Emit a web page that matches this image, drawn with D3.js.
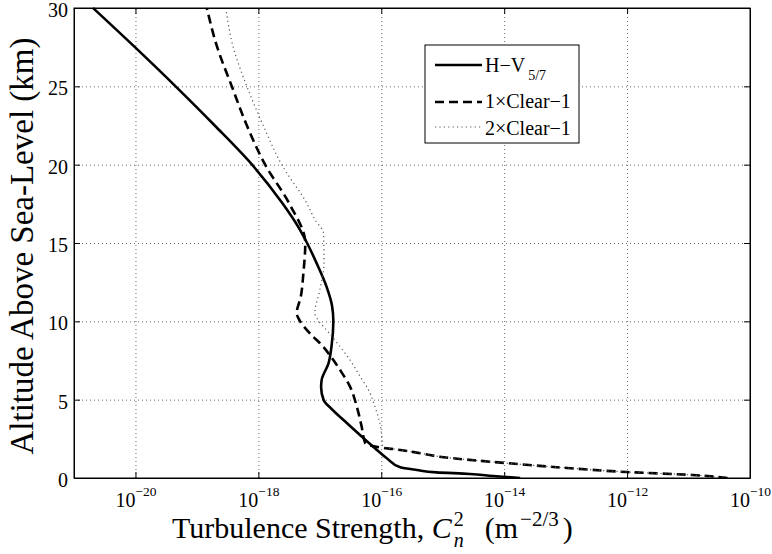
<!DOCTYPE html>
<html>
<head>
<meta charset="utf-8">
<script src="https://cdn.jsdelivr.net/npm/d3@7"></script>
<style>
  body { margin: 0; background: #fff; }
  svg text { font-family: "Liberation Serif", "DejaVu Serif", serif; fill: #000; }
</style>
</head>
<body>
<script>
// altitude (km) and Cn^2 values
const hvHeights = [0, 0.13, 0.26, 0.36, 0.51, 0.68, 1.26, 1.9, 2.5, 3.5, 4.3, 5.0, 5.8, 6.25, 7.3, 8.4, 10.0, 11.0, 12.2, 13.7, 15.0, 16.0, 17.5, 20, 22.5, 25, 27.5, 30];
const hvValues  = [1.82e-14, 6.6e-15, 2.75e-15, 7.9e-16, 3.8e-16, 2.04e-16, 1.23e-16, 7.9e-17, 5.3e-17, 2.77e-17, 1.66e-17, 1.15e-17, 1.05e-17, 1.07e-17, 1.38e-17, 1.55e-17, 1.66e-17, 1.58e-17, 1.29e-17, 8.9e-18, 6.2e-18, 4.5e-18, 2.5e-18, 7.9e-19, 1.95e-19, 4.5e-20, 9.8e-21, 2.04e-21];

const clear1Heights = [0, 0.19, 0.38, 0.64, 0.96, 1.36, 1.58, 1.79, 1.95, 2.21, 3.27, 4.55, 5.83, 6.89, 7.53, 8.49, 9.23, 10.19, 10.51, 11.57, 13.06, 15, 17.5, 20, 22.5, 25, 27.5, 30];
const clear1Values  = [4.3e-11, 1.17e-11, 1.0e-12, 1.05e-13, 1.02e-14, 8.9e-16, 4.3e-16, 2.04e-16, 9.5e-17, 5.5e-17, 4.8e-17, 4.0e-17, 3.1e-17, 2.14e-17, 1.66e-17, 1.07e-17, 6.9e-18, 4.5e-18, 4.2e-18, 4.9e-18, 5.4e-18, 5.8e-18, 3.2e-18, 1.29e-18, 6.5e-19, 3.7e-19, 2.14e-19, 1.45e-19];

const clear2Heights = [0, 0.19, 0.38, 0.64, 0.96, 1.36, 1.58, 1.79, 2.0, 2.64, 3.49, 4.55, 5.62, 6.5, 7.53, 8.38, 9.44, 10.1, 10.5, 12.0, 13.7, 15.6, 16.5, 17.5, 20, 22.5, 25, 27.5, 30];
const clear2Values  = [4.3e-11, 1.17e-11, 1.0e-12, 1.05e-13, 1.02e-14, 8.9e-16, 4.3e-16, 2.04e-16, 1.05e-16, 1.02e-16, 9.5e-17, 7.9e-17, 6.2e-17, 4.5e-17, 3.1e-17, 2.14e-17, 1.29e-17, 9.3e-18, 8.3e-18, 1.0e-17, 1.17e-17, 1.15e-17, 8.3e-18, 6.2e-18, 2.4e-18, 1.2e-18, 6.5e-19, 3.9e-19, 2.95e-19];

const xTickValues = [1e-20, 1e-18, 1e-16, 1e-14, 1e-12, 1e-10];
const xTickExps = ["\u221220", "\u221218", "\u221216", "\u221214", "\u221212", "\u221210"];
const yTickValues = [0, 5, 10, 15, 20, 25, 30];

const W = 772, H = 554;
const margin = {top: 8, right: 22, bottom: 76, left: 74};
const width = W - margin.left - margin.right,
    height = H - margin.top - margin.bottom;

const svg = d3.select("body").append("svg")
  .attr("width", W)
  .attr("height", H)
  .attr("font-family", "Liberation Serif, DejaVu Serif, serif");

const g = svg.append("g")
  .attr("transform", "translate(" + margin.left + "," + margin.top + ")");

const x = d3.scaleLog().domain([1e-21, 1e-10]).range([0, width]);
const y = d3.scaleLinear().domain([0, 30]).range([height, 0]);

//Grid lines
g.append("g")
  .attr("transform", "translate(0," + height + ")")
  .call(d3.axisBottom(x).tickValues(xTickValues.slice(0, -1)).tickSize(-height).tickFormat(""))
  .call(s => s.select(".domain").remove())
  .selectAll("line")
    .attr("stroke", "#000").attr("stroke-opacity", 0.6)
    .attr("stroke-dasharray", "1,3");

g.append("g")
  .call(d3.axisLeft(y).tickValues(yTickValues.slice(1, -1)).tickSize(-width).tickFormat(""))
  .call(s => s.select(".domain").remove())
  .selectAll("line")
    .attr("stroke", "#000").attr("stroke-opacity", 0.6)
    .attr("stroke-dasharray", "1,3");

//Clip for curves
g.append("clipPath").attr("id", "plotclip")
  .append("rect").attr("y", -2).attr("width", width).attr("height", height + 2);

const line = d3.line()
  .x(d => x(d[1]))
  .y(d => y(d[0]))
  .curve(d3.curveMonotoneY);

const series = [
  {name: "hv", data: d3.zip(hvHeights, hvValues), stroke: "#000", w: 2.6, dash: null},
  {name: "c1", data: d3.zip(clear1Heights, clear1Values), stroke: "#000", w: 2.6, dash: "9,5"},
  {name: "c2", data: d3.zip(clear2Heights, clear2Values), stroke: "#555", w: 1.2, dash: "1.2,3.2"}
];

const curves = g.append("g").attr("clip-path", "url(#plotclip)");
series.forEach(s => {
  curves.append("path")
    .datum(s.data)
    .attr("fill", "none")
    .attr("stroke", s.stroke)
    .attr("stroke-width", s.w)
    .attr("stroke-dasharray", s.dash)
    .attr("stroke-linejoin", "round")
    .attr("d", line);
});

//Axes with inward ticks on all four sides
const tickLen = 6;
const xb = g.append("g")
  .attr("transform", "translate(0," + height + ")")
  .call(d3.axisBottom(x).tickValues(xTickValues).tickSizeInner(-tickLen).tickSizeOuter(0).tickFormat(""));
g.append("g")
  .call(d3.axisTop(x).tickValues(xTickValues).tickSizeInner(-tickLen).tickSizeOuter(0).tickFormat(""));
const yl = g.append("g")
  .call(d3.axisLeft(y).tickValues(yTickValues).tickSizeInner(-tickLen).tickSizeOuter(0).tickFormat(""));
g.append("g")
  .attr("transform", "translate(" + width + ",0)")
  .call(d3.axisRight(y).tickValues(yTickValues).tickSizeInner(-tickLen).tickSizeOuter(0).tickFormat(""));
g.selectAll(".domain").attr("stroke", "#000");
g.selectAll("g").attr("font-family", null);

//x tick labels 10^n
xb.selectAll(".tick").each(function(d, i) {
  const t = d3.select(this).append("text")
    .attr("y", 29)
    .attr("text-anchor", "middle")
    .attr("font-size", "20px");
  t.append("tspan").text("10");
  t.append("tspan").attr("dy", -11).attr("font-size", "13.5px").text(xTickExps[i]);
});

//y tick labels
yl.selectAll(".tick").append("text")
  .attr("x", -6)
  .attr("y", 8.5)
  .attr("text-anchor", "end")
  .attr("font-size", "20px")
  .text(d => d);

//Box
g.append("rect")
  .attr("width", width).attr("height", height)
  .attr("fill", "none").attr("stroke", "#000").attr("stroke-width", 1);

//x axis label
const xl = svg.append("text")
  .attr("x", 172).attr("y", 538)
  .attr("font-size", "30px");
xl.append("tspan").text("Turbulence Strength, ");
xl.append("tspan").attr("font-style", "italic").text("C");
xl.append("tspan").attr("dy", -12).attr("dx", 2).attr("font-size", "20px").text("2");
xl.append("tspan").attr("dy", 21).attr("dx", -10).attr("font-size", "20px").attr("font-style", "italic").text("n");
xl.append("tspan").attr("dy", -9).attr("dx", 6).text("\u2002(m");
xl.append("tspan").attr("dy", -12).attr("dx", 2).attr("font-size", "21px").text("\u22122/3");
xl.append("tspan").attr("dy", 12).attr("dx", 4).text(")");

//y axis label
svg.append("text")
  .attr("transform", "translate(33," + (margin.top + height / 2 + 3) + ") rotate(-90)")
  .attr("text-anchor", "middle")
  .attr("font-size", "33px")
  .text("Altitude Above Sea-Level (km)");

//Legend
const lg = svg.append("g");
lg.append("rect")
  .attr("x", 425).attr("y", 45).attr("width", 154).attr("height", 98)
  .attr("fill", "#fff").attr("stroke", "#000").attr("stroke-width", 1);

const legendRows = [
  {y: 65, base: 72, s: series[0], label: "H\u2212V", sub: "5/7"},
  {y: 102, base: 108, s: series[1], label: "1\u00d7Clear\u22121"},
  {y: 127, base: 135, s: series[2], label: "2\u00d7Clear\u22121"}
];
legendRows.forEach(r => {
  lg.append("line")
    .attr("x1", 435).attr("x2", 482).attr("y1", r.y).attr("y2", r.y)
    .attr("stroke", r.s.stroke).attr("stroke-width", r.s.w)
    .attr("stroke-dasharray", r.s.dash);
  const t = lg.append("text")
    .attr("x", 485).attr("y", r.base)
    .attr("font-size", "20px");
  t.append("tspan").text(r.label);
  if (r.sub) {
    t.append("tspan").attr("dx", 3).attr("dy", 8).attr("font-size", "14px").text(r.sub);
  }
});
</script>
</body>
</html>
